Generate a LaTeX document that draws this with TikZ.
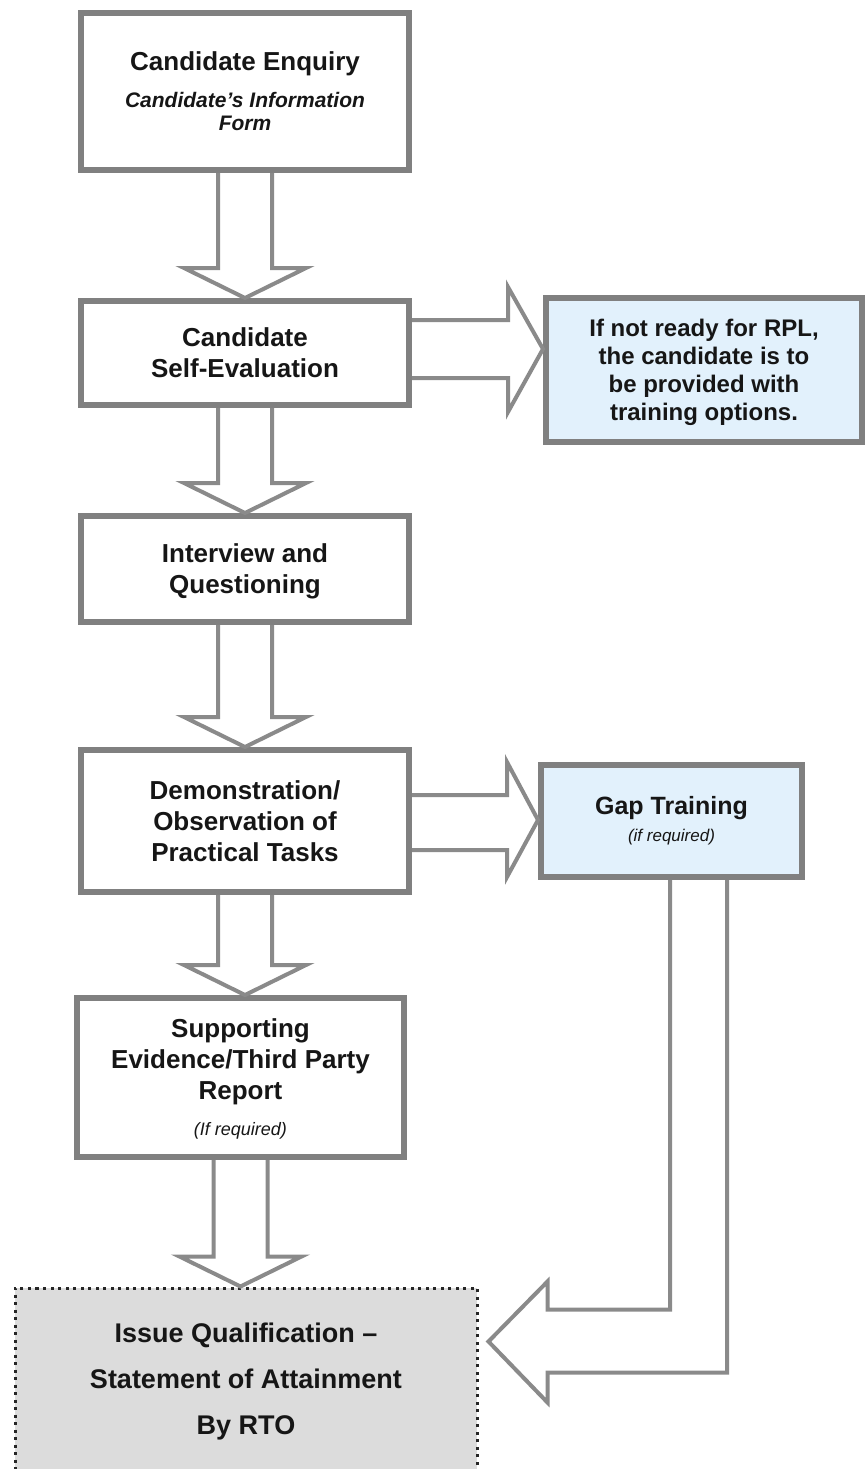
\documentclass[tikz,border=0pt]{standalone}
\usepackage{fontspec}
\setmainfont{Liberation Sans}
\usetikzlibrary{calc}
\definecolor{boxgray}{RGB}{128,128,128}
\definecolor{arrgray}{RGB}{138,138,138}
\definecolor{lightblue}{RGB}{226,241,252}
\definecolor{fingray}{RGB}{220,220,220}
\definecolor{txt}{RGB}{22,22,22}
\begin{document}
\begin{tikzpicture}[x=1pt,y=-1pt,
  box/.style={draw=boxgray, line width=6pt, fill=white, align=center, inner sep=0pt, text=txt,
    font=\fontsize{26}{31}\selectfont\bfseries},
  bluebox/.style={box, fill=lightblue},
  arrowline/.style={draw=arrgray, line width=4pt, line join=miter},
  finbox/.style={draw=black!85, line width=3pt, dash pattern=on 3pt off 4.5pt, fill=fingray,
    align=center, inner sep=0pt, text=txt, font=\fontsize{27}{46}\selectfont\bfseries}]
\useasboundingbox (0,0) rectangle (865,1469);

% boxes
\node[box, minimum width=328pt, minimum height=157pt] (b1) at (245,91.5)
  {Candidate Enquiry\\[6pt]{\fontsize{21}{23}\selectfont\itshape Candidate’s Information}\\[-8pt]{\fontsize{21}{23}\selectfont\itshape Form}};
\node[box, minimum width=328pt, minimum height=104pt] (b2) at (245,353)
  {Candidate\\Self-Evaluation};
\node[box, minimum width=328pt, minimum height=106pt, text depth=0pt] (b3) at (245,569)
  {Interview and\\Questioning};
\node[box, minimum width=328pt, minimum height=142pt] (b4) at (245,821)
  {Demonstration/\\Observation of\\Practical Tasks};
\node[box, minimum width=327pt, minimum height=159pt, text depth=0pt] (b5) at (240.5,1077.5)
  {Supporting\\Evidence/Third Party\\Report\\[5pt]{\fontsize{18}{20}\selectfont\mdseries\itshape (If required)}};
\node[bluebox, minimum width=316pt, minimum height=144pt, text depth=0pt,
  font=\fontsize{24}{28}\selectfont\bfseries] (n1) at (704,370)
  {If not ready for RPL,\\the candidate is to\\be provided with\\training options.};
\node[bluebox, minimum width=261pt, minimum height=112pt,
  font=\fontsize{25}{27}\selectfont\bfseries] (gap) at (671.5,821)
  {Gap Training\\{\fontsize{17}{20}\selectfont\mdseries\itshape (if required)}};
\node[finbox, minimum width=462pt, minimum height=187pt] (fin) at (246,1381.5)
  {Issue Qualification –\\Statement of Attainment\\By RTO};

% downward block arrows
\foreach \a/\b in {b1/b2, b2/b3, b3/b4, b4/b5, b5/fin}{
  \draw[arrowline] let \p1=(\a.south), \p2=(\b.north) in
    (\x1-27pt,\y1) -- (\x1-27pt,\y2+30pt) -- (\x1-61pt,\y2+30pt) -- (\x1,\y2)
    -- (\x1+61pt,\y2+30pt) -- (\x1+27pt,\y2+30pt) -- (\x1+27pt,\y1);
}

% side arrow to RPL note
\draw[arrowline] let \p1=(b2.east), \p2=(n1.west) in
  (\x1,\y1+33pt) -- (\x2-35pt,\y1+33pt) -- (\x2-35pt,\y1+66pt) -- (\x2,\y1+4pt)
  -- (\x2-35pt,\y1-59pt) -- (\x2-35pt,\y1-25pt) -- (\x1,\y1-25pt);

% side arrow to gap training
\draw[arrowline] let \p1=(b4.east), \p2=(gap.west) in
  (\x1,\y1+26pt) -- (\x2-31pt,\y1+26pt) -- (\x2-31pt,\y1+59pt) -- (\x2,\y1+1pt)
  -- (\x2-31pt,\y1-56pt) -- (\x2-31pt,\y1-29pt) -- (\x1,\y1-29pt);

% L-shaped arrow from gap training to final box
\draw[arrowline] let \p1=(gap.south), \p2=(fin.north east) in
  (\x1-1.5pt,\y1) -- (\x1-1.5pt,\y2-23pt) -- (\x2+69pt,\y2-23pt) -- (\x2+69pt,\y2+5pt)
  -- (\x2+10pt,\y2-55pt) -- (\x2+69pt,\y2-116pt) -- (\x2+69pt,\y2-86pt)
  -- (\x1+55.5pt,\y2-86pt) -- (\x1+55.5pt,\y1);
\end{tikzpicture}
\end{document}
